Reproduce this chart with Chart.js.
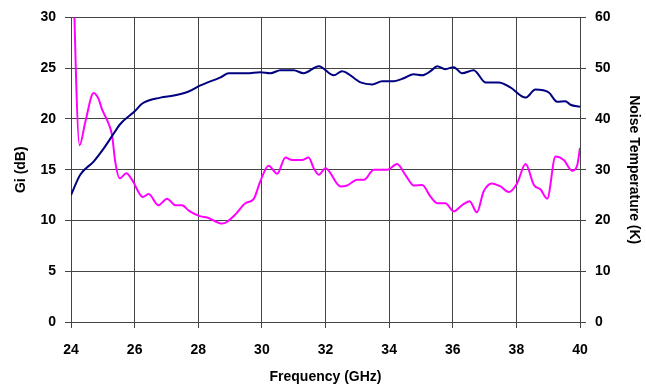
<!DOCTYPE html>
<html>
<head>
<meta charset="utf-8">
<script src="https://cdn.jsdelivr.net/npm/chart.js@4"></script>
<style>
html,body{margin:0;padding:0;background:#fff;}
#wrap{width:646px;height:388px;}
</style>
</head>
<body>
<div id="wrap"><canvas id="c" width="646" height="388"></canvas></div>
<script>
// Frequency (GHz) and gain Gi (dB)
const giFreq = [24.0,24.29,24.71,25.03,25.34,25.55,26.02,26.23,26.81,27.23,27.7,28.07,28.7,28.96,29.53,29.95,30.27,30.58,31.0,31.31,31.79,32.26,32.52,33.1,33.47,33.78,34.09,34.46,34.77,35.04,35.3,35.51,35.76,36.03,36.29,36.66,37.03,37.45,37.81,38.29,38.6,39.02,39.28,39.54,39.7,40.0];
const giValues = [12.5,14.5,15.8,17.1,18.55,19.5,20.8,21.5,22.1,22.3,22.7,23.3,24.1,24.5,24.5,24.6,24.5,24.8,24.8,24.5,25.2,24.3,24.7,23.6,23.4,23.7,23.7,24.0,24.4,24.3,24.7,25.2,24.9,25.1,24.5,24.8,23.6,23.6,23.1,22.1,22.9,22.6,21.7,21.75,21.4,21.2];

// Frequency (GHz) and noise temperature (K)
const ntFreq = [24.0,24.27,24.45,24.71,24.87,24.97,25.18,25.29,25.39,25.53,25.74,25.92,26.26,26.44,26.75,27.02,27.28,27.49,27.7,28.07,28.28,28.75,28.9,29.17,29.48,29.74,29.95,30.21,30.48,30.74,30.95,31.26,31.47,31.63,31.79,32.0,32.47,32.68,33.0,33.21,33.52,33.94,34.25,34.51,34.77,35.04,35.3,35.51,35.77,36.03,36.29,36.53,36.76,36.97,37.23,37.5,37.76,38.02,38.29,38.55,38.76,38.97,39.23,39.49,39.75,39.91,40.0];
const ntValues = [85,34.8,39.4,45.1,43.9,42.0,39.1,36.8,31.6,28.3,29.3,28.0,24.6,25.2,23.0,24.3,23.0,23.0,21.95,20.8,20.6,19.4,19.7,21.2,23.4,24.2,27.7,30.8,29.2,32.4,31.9,31.9,32.4,30.3,29.0,30.3,26.7,26.9,28.0,28.0,30.0,30.0,31.1,29.0,26.9,27.0,24.7,23.4,23.4,21.8,23.0,23.8,21.6,25.7,27.3,26.7,25.6,27.3,31.1,27.0,26.1,24.3,32.6,31.9,29.8,30.8,34.3];

const xTicks = [24,26,28,30,32,34,36,38,40];
const giTicks = [0,5,10,15,20,25,30];
const ntTicks = [0,10,20,30,40,50,60];

const FONT = {family: '"Liberation Sans", Arial, sans-serif', size: 14, weight: 'bold'};
const GRID = '#444444';

new Chart(document.getElementById('c'), {
  type: 'line',
  data: {
    datasets: [
      {
        label: 'Gi (dB)',
        data: giFreq.map((f, i) => ({x: f, y: giValues[i]})),
        yAxisID: 'y',
        borderColor: '#000080',
        borderWidth: 2,
        pointRadius: 0,
        cubicInterpolationMode: 'monotone',
        fill: false
      },
      {
        label: 'Noise Temperature (K)',
        data: ntFreq.map((f, i) => ({x: f, y: ntValues[i]})),
        yAxisID: 'y1',
        borderColor: '#FF00FF',
        borderWidth: 2,
        pointRadius: 0,
        cubicInterpolationMode: 'monotone',
        fill: false
      }
    ]
  },
  options: {
    responsive: false,
    animation: false,
    devicePixelRatio: 1,
    layout: {padding: {top: 15, left: 0, right: 0, bottom: 0}},
    plugins: {legend: {display: false}, tooltip: {enabled: false}},
    scales: {
      x: {
        type: 'linear',
        min: 24, max: 40,
        afterBuildTicks: s => { s.ticks = xTicks.map(v => ({value: v})); },
        afterFit: s => { s.height = 66; },
        ticks: {font: FONT, color: '#000', padding: 14, maxRotation: 0, autoSkip: false},
        grid: {color: GRID, lineWidth: 1, tickLength: 6},
        border: {color: GRID},
        title: {display: true, text: 'Frequency (GHz)', font: FONT, color: '#000', padding: {top: 2, bottom: 2}}
      },
      y: {
        type: 'linear',
        position: 'left',
        min: 0, max: 30,
        afterBuildTicks: s => { s.ticks = giTicks.map(v => ({value: v})); },
        afterFit: s => { s.width = 71; },
        ticks: {font: FONT, color: '#000', padding: 9, autoSkip: false},
        grid: {color: GRID, lineWidth: 1, tickLength: 6},
        border: {color: GRID},
        title: {display: true, text: 'Gi (dB)', font: FONT, color: '#000', padding: {top: 13, bottom: 4}}
      },
      y1: {
        type: 'linear',
        position: 'right',
        min: 0, max: 60,
        afterBuildTicks: s => { s.ticks = ntTicks.map(v => ({value: v})); },
        afterFit: s => { s.width = 66; },
        ticks: {font: FONT, color: '#000', padding: 9, autoSkip: false},
        grid: {drawOnChartArea: false, color: GRID, lineWidth: 1, tickLength: 6},
        border: {color: GRID},
        title: {display: true, text: 'Noise Temperature (K)', font: FONT, color: '#000', padding: {top: 4, bottom: 4}}
      }
    }
  }
});
</script>
</body>
</html>
